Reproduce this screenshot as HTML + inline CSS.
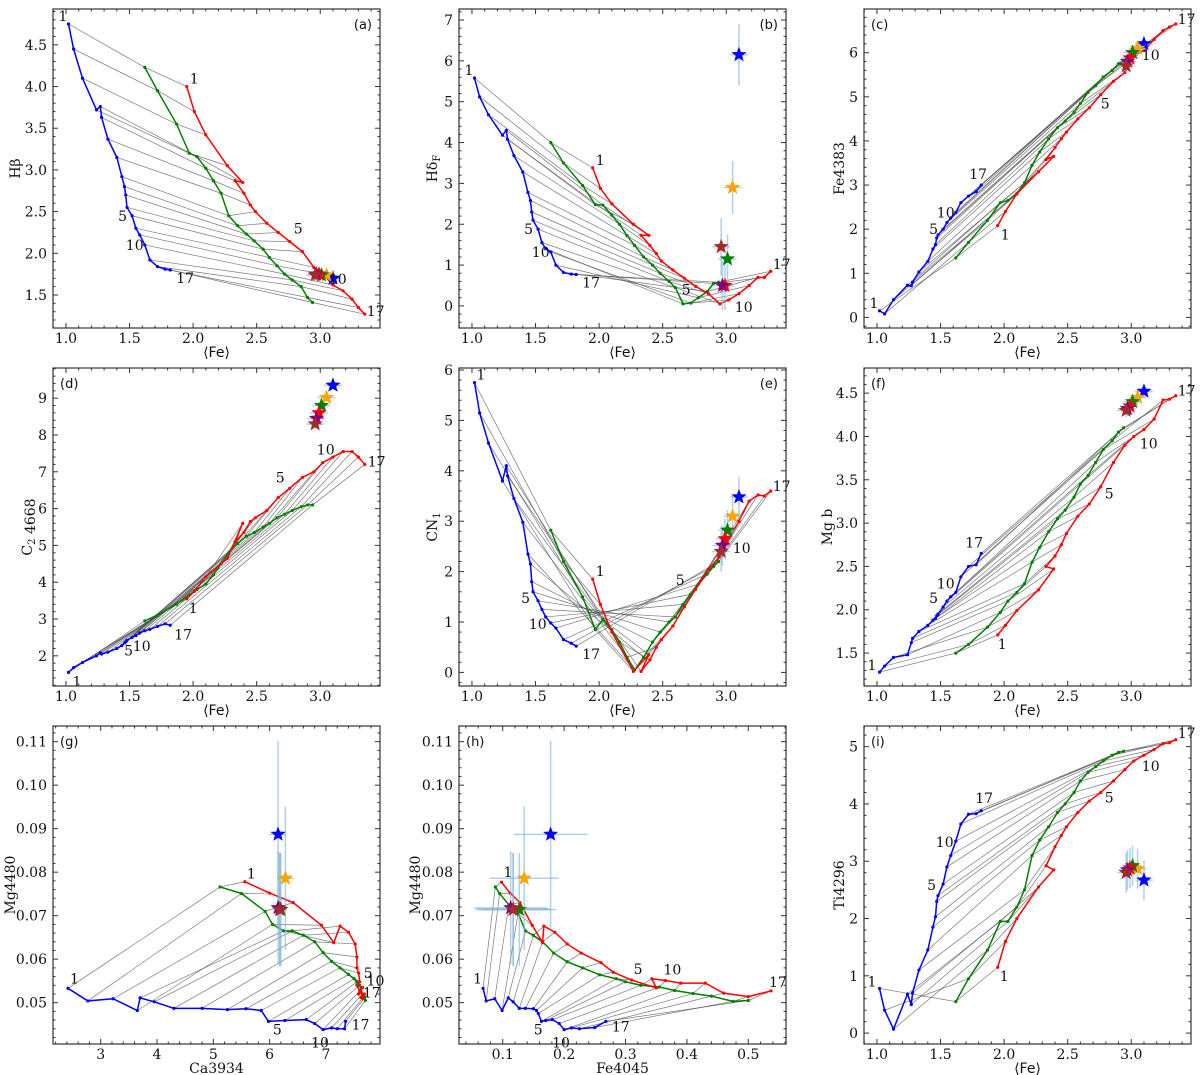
<!DOCTYPE html>
<html><head><meta charset="utf-8"><style>
html,body{margin:0;padding:0;background:#fff;}
svg{display:block;}
</style></head><body>
<svg id="fig" xmlns="http://www.w3.org/2000/svg" width="1200" height="1075" viewBox="0 0 1200 1075"></svg>
<script>
// ---- shared Fe values of model tracks ----
const feBlue=[1.02,1.06,1.13,1.24,1.27,1.28,1.33,1.40,1.44,1.46,1.47,1.48,1.52,1.55,1.58,1.62,1.66,1.72,1.78,1.82];
const feGreen=[1.62,1.72,1.87,1.97,2.03,2.10,2.16,2.22,2.28,2.35,2.42,2.48,2.55,2.60,2.66,2.72,2.78,2.85,2.90,2.94];
const feRed=[1.95,2.01,2.10,2.27,2.39,2.33,2.40,2.45,2.49,2.58,2.67,2.76,2.86,2.95,3.02,3.10,3.18,3.25,3.30,3.35];
const starFe=[3.10,3.05,3.01,2.99,2.97,2.96];
const starFeErr=[0.07,0.07,0.07,0.07,0.07,0.07];
const blueLabelIdx=[0,12,15,19];
const redLabelIdx=[0,11,14,19];
const labelTexts=["1","5","10","17"];

// (a) Hbeta
const aBlue=[4.75,4.45,4.1,3.72,3.76,3.63,3.37,3.15,2.92,2.8,2.7,2.55,2.45,2.3,2.22,2.1,1.92,1.84,1.81,1.80];
const aGreen=[4.23,3.95,3.55,3.2,3.16,3.02,2.87,2.72,2.45,2.33,2.23,2.15,2.05,1.95,1.85,1.75,1.68,1.6,1.47,1.41];
const aRed=[4.0,3.7,3.42,3.05,2.85,2.87,2.72,2.58,2.5,2.36,2.25,2.14,2.02,1.83,1.75,1.62,1.55,1.45,1.35,1.27];
const aStar=[1.70,1.74,1.74,1.75,1.75,1.74];
const aStarErr=[0.03,0.03,0.03,0.03,0.03,0.03];
// (b) HdeltaF
const bBlue=[5.58,5.12,4.68,4.18,4.30,4.08,3.68,3.28,2.78,2.58,2.3,2.1,1.88,1.55,1.4,1.32,1.0,0.82,0.78,0.77];
const bGreen=[4.0,3.5,2.95,2.48,2.47,2.22,2.0,1.72,1.48,1.2,1.0,0.8,0.6,0.45,0.05,0.07,0.2,0.35,0.55,0.58];
const bRed=[3.38,2.88,2.5,2.0,1.73,1.73,1.48,1.28,1.1,0.88,0.68,0.48,0.3,0.05,0.15,0.3,0.5,0.7,0.7,0.85];
const bStar=[6.15,2.9,1.15,0.5,0.5,1.45];
const bStarErr=[0.75,0.65,0.6,0.6,0.6,0.7];
// (c) Fe4383
const cBlue=[0.15,0.08,0.4,0.73,0.72,0.8,1.03,1.27,1.55,1.65,1.8,1.87,2.0,2.15,2.25,2.38,2.6,2.75,2.85,3.0];
const cGreen=[1.35,1.7,2.2,2.6,2.65,2.8,3.05,3.45,3.75,4.05,4.3,4.45,4.65,4.85,5.1,5.25,5.45,5.6,5.75,5.82];
const cRed=[2.08,2.4,2.8,3.3,3.65,3.58,3.85,4.05,4.2,4.5,4.75,5.05,5.35,5.55,5.95,6.05,6.3,6.5,6.58,6.65];
const cStar=[6.2,6.1,6.0,5.88,5.8,5.7];
const cStarErr=[0.15,0.15,0.15,0.15,0.15,0.15];
// (d) C2 4668
const dBlue=[1.55,1.68,1.82,2.0,2.08,2.05,2.1,2.2,2.28,2.35,2.38,2.42,2.5,2.55,2.62,2.68,2.72,2.8,2.87,2.83];
const dGreen=[2.95,3.1,3.4,3.65,3.8,3.95,4.2,4.5,4.8,5.05,5.25,5.35,5.5,5.6,5.75,5.85,5.95,6.05,6.1,6.1];
const dRed=[3.55,3.75,4.15,4.65,5.6,5.1,5.35,5.65,5.75,5.95,6.3,6.55,6.85,7.0,7.25,7.4,7.55,7.55,7.4,7.2];
const dStar=[9.35,9.02,8.8,8.6,8.45,8.3];
const dStarErr=[0.1,0.1,0.1,0.1,0.1,0.1];
// (e) CN1
const eBlue=[5.75,5.15,4.55,3.8,4.1,3.9,3.45,2.98,2.35,2.15,1.8,1.6,1.42,1.25,1.1,0.98,0.88,0.65,0.58,0.52];
const eGreen=[2.82,2.2,1.5,0.85,1.05,0.85,0.6,0.3,0.05,0.3,0.6,0.8,1.0,1.1,1.35,1.55,1.75,1.95,2.1,2.2];
const eRed=[1.85,1.35,0.8,0.02,0.35,0.02,0.25,0.5,0.65,0.92,1.3,1.65,2.05,2.3,2.65,3.0,3.4,3.52,3.5,3.6];
const eStar=[3.48,3.1,2.82,2.65,2.52,2.4];
const eStarErr=[0.4,0.4,0.4,0.4,0.4,0.4];
// (f) Mg b
const fBlue=[1.28,1.35,1.45,1.48,1.62,1.67,1.75,1.82,1.88,1.9,1.93,1.95,2.03,2.1,2.15,2.2,2.38,2.5,2.52,2.65];
const fGreen=[1.5,1.6,1.8,1.97,2.1,2.2,2.3,2.55,2.72,2.9,3.05,3.15,3.3,3.45,3.55,3.7,3.85,3.95,4.05,4.1];
const fRed=[1.71,1.82,1.99,2.23,2.47,2.5,2.62,2.75,2.88,3.08,3.22,3.42,3.7,3.9,4.0,4.08,4.2,4.42,4.43,4.47];
const fStar=[4.52,4.45,4.4,4.35,4.32,4.3];
const fStarErr=[0.08,0.08,0.08,0.08,0.08,0.08];
// (g) Ca3934 vs Mg4480
const gBlueX=[2.42,2.77,3.22,3.65,3.7,3.95,4.3,4.8,5.25,5.58,5.85,5.98,6.27,6.65,6.8,6.95,7.1,7.2,7.33,7.35];
const gBlueY=[0.0533,0.0504,0.0509,0.0482,0.0511,0.0502,0.0487,0.0487,0.0484,0.0486,0.0482,0.0457,0.0459,0.0461,0.0452,0.0438,0.0442,0.044,0.044,0.0457];
const gGreenX=[5.12,5.5,5.92,6.05,6.25,6.4,6.6,6.8,6.95,7.1,7.25,7.4,7.5,7.55,7.6,7.62,7.65,7.68,7.7,7.68];
const gGreenY=[0.0766,0.0751,0.071,0.068,0.0665,0.0665,0.0655,0.064,0.0615,0.0595,0.058,0.0565,0.0555,0.0548,0.054,0.053,0.052,0.0515,0.0505,0.051];
const gRedX=[5.56,6.0,6.42,6.92,7.14,7.25,7.4,7.52,7.55,7.55,7.58,7.6,7.55,7.6,7.65,7.58,7.62,7.65,7.68,7.62];
const gRedY=[0.0778,0.0752,0.073,0.0678,0.0638,0.0676,0.0662,0.0635,0.0605,0.058,0.0568,0.0548,0.054,0.0525,0.0535,0.052,0.0525,0.051,0.052,0.0512];
const gStarX=[6.15,6.28,6.2,6.18,6.15,6.18];
const gStarXErr=[0.15,0.15,0.1,0.1,0.1,0.1];
const gStarY=[0.0887,0.0786,0.0714,0.0715,0.0718,0.0714];
const gStarYErr=[0.0215,0.0165,0.013,0.013,0.013,0.013];
// (h) Fe4045 vs Mg4480
const hBlueX=[0.068,0.073,0.087,0.099,0.109,0.117,0.127,0.137,0.150,0.155,0.158,0.163,0.170,0.181,0.192,0.200,0.212,0.225,0.250,0.268];
const hBlueY=[0.0533,0.0504,0.0509,0.0482,0.0511,0.0502,0.0487,0.0487,0.0486,0.0482,0.0475,0.0457,0.0459,0.0461,0.0452,0.0438,0.0442,0.044,0.0443,0.0457];
const hGreenX=[0.088,0.095,0.110,0.125,0.137,0.150,0.165,0.183,0.205,0.230,0.258,0.285,0.300,0.325,0.355,0.38,0.41,0.44,0.475,0.5];
const hGreenY=[0.0766,0.0751,0.0725,0.0705,0.0665,0.0655,0.064,0.0614,0.0594,0.058,0.0564,0.0555,0.0548,0.054,0.0536,0.0528,0.0521,0.0515,0.0503,0.0505];
const hRedX=[0.098,0.112,0.128,0.148,0.165,0.167,0.185,0.205,0.228,0.26,0.28,0.31,0.35,0.343,0.365,0.39,0.43,0.46,0.50,0.537];
const hRedY=[0.0777,0.0752,0.073,0.0678,0.0638,0.0676,0.0662,0.0635,0.0614,0.0592,0.057,0.0552,0.0534,0.0555,0.0551,0.0545,0.0545,0.0522,0.0514,0.0527];
const hStarX=[0.178,0.135,0.127,0.117,0.113,0.117];
const hStarXErr=[0.06,0.056,0.06,0.06,0.06,0.06];
const hStarY=[0.0887,0.0786,0.0714,0.0715,0.0718,0.0714];
const hStarYErr=[0.0215,0.0165,0.013,0.013,0.013,0.013];
// (i) Ti4296
const iBlue=[0.78,0.4,0.07,0.68,0.5,0.7,1.1,1.45,1.85,2.03,2.3,2.4,2.6,2.9,3.1,3.35,3.65,3.82,3.83,3.88];
const iGreen=[0.55,0.95,1.45,1.95,1.95,2.2,2.5,3.1,3.37,3.6,3.85,4.0,4.2,4.4,4.55,4.65,4.75,4.85,4.9,4.92];
const iRed=[1.15,1.6,2.0,2.55,2.85,2.92,3.25,3.45,3.6,3.85,4.05,4.2,4.4,4.6,4.75,4.85,4.95,5.05,5.07,5.12];
const iStar=[2.67,2.87,2.92,2.88,2.85,2.8];
const iStarErr=[0.35,0.35,0.35,0.35,0.35,0.35];

const starColors=["#0000ff","#ffa500","#008000","#ff0000","#800080","#a52a2a"];
const NS="http://www.w3.org/2000/svg";
const svg=document.getElementById('fig');
function mk(tag,attrs,parent){const e=document.createElementNS(NS,tag);for(const k in attrs)e.setAttribute(k,attrs[k]);(parent||svg).appendChild(e);return e;}

function panel(c,t,s){
  const g=mk('g',{});
  
  
  const X=v=>c.x0+(v-c.xmin)/(c.xmax-c.xmin)*c.w;
  const Y=v=>c.y0+c.h-(v-c.ymin)/(c.ymax-c.ymin)*c.h;
  const clipId='clip'+c.id;
  const cp=mk('clipPath',{id:clipId},g);mk('rect',{x:c.x0,y:c.y0,width:c.w,height:c.h},cp);
  const plot=mk('g',{'clip-path':'url(#'+clipId+')'},g);
  const conn=mk('g',{},plot);
  
  
  for(let i=0;i<t.bx.length;i++){
    const l=mk('polyline',{points:X(t.bx[i])+','+Y(t.by[i])+' '+X(t.gx[i])+','+Y(t.gy[i])+' '+X(t.rx[i])+','+Y(t.ry[i]),fill:'none',stroke:'#4d4d4d','stroke-width':0.7,'stroke-opacity':0.75},conn);
    
    
  }
  [['blue',t.bx,t.by,'#0000ff'],['green',t.gx,t.gy,'#008000'],['red',t.rx,t.ry,'#ff0000']].forEach(([n,xs,ys,col])=>{
    const tg=mk('g',{},plot);
    
    
    mk('polyline',{points:xs.map((v,i)=>X(v)+','+Y(ys[i])).join(' '),fill:'none',stroke:col,'stroke-width':1.5},tg);
    xs.forEach((v,i)=>{const d=mk('circle',{cx:X(v),cy:Y(ys[i]),r:1.6,fill:col},tg);
      
      });
  });
  const eb=mk('g',{},plot);
  
  
  for(let i=0;i<s.x.length;i++){
    mk('line',{x1:X(s.x[i]-s.xe[i]),x2:X(s.x[i]+s.xe[i]),y1:Y(s.y[i]),y2:Y(s.y[i]),stroke:'#7fb0d8','stroke-opacity':0.6,'stroke-width':1.5},eb);
    mk('line',{x1:X(s.x[i]),x2:X(s.x[i]),y1:Y(s.y[i]-s.ye[i]),y2:Y(s.y[i]+s.ye[i]),stroke:'#7fb0d8','stroke-opacity':0.6,'stroke-width':1.5},eb);
  }
  for(let i=0;i<s.x.length;i++){
    const cx=X(s.x[i]),cy=Y(s.y[i]),R=8,r=3.4;let p=[];
    for(let k=0;k<10;k++){const a=-Math.PI/2+k*Math.PI/5;const rr=k%2?r:R;p.push((cx+rr*Math.cos(a)).toFixed(2)+','+(cy+rr*Math.sin(a)).toFixed(2));}
    const st=mk('polygon',{points:p.join(' '),fill:starColors[i]},plot);
    
    
  }
  const lt={'font-family':'"DejaVu Serif","Liberation Serif",serif','font-size':14,fill:'#111'};
  blueLabelIdx.forEach((idx,k)=>{const off=c.bOff[k];
    const tx=mk('text',Object.assign({x:X(t.bx[idx])+off[0],y:Y(t.by[idx])+off[1]},lt),g);tx.textContent=labelTexts[k];
    
    });
  redLabelIdx.forEach((idx,k)=>{const off=c.rOff[k];
    const tx=mk('text',Object.assign({x:X(t.rx[idx])+off[0],y:Y(t.ry[idx])+off[1]},lt),g);tx.textContent=labelTexts[k];
    
    });
  const fr=mk('rect',{x:c.x0,y:c.y0,width:c.w,height:c.h,fill:'none',stroke:'#333','stroke-width':1.2},g);
  
  
  const tf={'font-family':'"DejaVu Serif","Liberation Serif",serif','font-size':14,fill:'#111'};
  const xa=mk('g',{},g);
  const ya=mk('g',{},g);
  const eps=1e-9;
  for(let v=Math.ceil((c.xmin-eps)/c.xmi)*c.xmi;v<=c.xmax+eps;v+=c.xmi){
    const px=X(v);const major=Math.abs(v/c.xma-Math.round(v/c.xma))<1e-6;const L=major?5:2.5;
    mk('line',{x1:px,x2:px,y1:c.y0+c.h,y2:c.y0+c.h-L,stroke:'#333','stroke-width':1},xa);
    mk('line',{x1:px,x2:px,y1:c.y0,y2:c.y0+L,stroke:'#333','stroke-width':1},xa);
    if(major){const tx=mk('text',Object.assign({x:px,y:c.y0+c.h+15,'text-anchor':'middle'},tf),xa);tx.textContent=(Math.round(v/c.xma)*c.xma).toFixed(c.xd);}
  }
  for(let v=Math.ceil((c.ymin-eps)/c.ymi)*c.ymi;v<=c.ymax+eps;v+=c.ymi){
    const py=Y(v);const major=Math.abs(v/c.yma-Math.round(v/c.yma))<1e-6;const L=major?5:2.5;
    mk('line',{x1:c.x0,x2:c.x0+L,y1:py,y2:py,stroke:'#333','stroke-width':1},ya);
    mk('line',{x1:c.x0+c.w,x2:c.x0+c.w-L,y1:py,y2:py,stroke:'#333','stroke-width':1},ya);
    if(major){const tx=mk('text',Object.assign({x:c.x0-6,y:py+5,'text-anchor':'end'},tf),ya);tx.textContent=(Math.round(v/c.yma)*c.yma).toFixed(c.yd);}
  }
  const xl=mk('text',{x:c.x0+c.w/2,y:c.y0+c.h+29,'text-anchor':'middle','font-family':c.xlf,'font-size':14,fill:'#111'},g);
  xl.textContent=c.xlabel;
  
  
  const ylx=c.ylx, yly=c.y0+c.h/2;
  const yl=mk('text',{x:ylx,y:yly,'text-anchor':'middle','font-family':'"DejaVu Serif","Liberation Serif",serif','font-size':14,fill:'#111',transform:'rotate(-90 '+ylx+' '+yly+')'},g);
  c.ylabel.forEach(([txt,sub])=>{const ts=mk('tspan',sub?{'font-size':10,dy:3}:{},yl);ts.textContent=txt;});
  
  
  const tag=mk('text',{x:c.tagRight?c.x0+c.w-8:c.x0+7,y:c.y0+20,'text-anchor':c.tagRight?'end':'start','font-family':'"DejaVu Sans","Liberation Sans",sans-serif','font-size':13,fill:'#111'},g);
  tag.textContent='('+c.id+')';
  
  
}

const C1=53,C2=459,C3=864,W=327,R1=9,R2=368,R3=726,H1=319,H2=318,H3=318;
const feX={xmin:0.898,xmax:3.47,xma:0.5,xmi:0.1,xd:1,xlabel:'⟨Fe⟩',xlf:'"DejaVu Sans","Liberation Sans",sans-serif'};
const bOffStd=[[-10,-3],[-14,5],[-19,5],[6,13]], rOffStd=[[3,-3],[4,-8],[6,10],[2,2]];
const sFe=(ys,ye)=>({x:starFe,xe:starFeErr,y:ys,ye:ye});

panel(Object.assign({id:'a',x0:C1,y0:R1,w:W,h:H1,ymin:1.104,ymax:4.93,yma:0.5,ymi:0.1,yd:1,ylabel:[['Hβ']],ylx:20,tagRight:true,bOff:bOffStd,rOff:rOffStd},feX),
  {bx:feBlue,by:aBlue,gx:feGreen,gy:aGreen,rx:feRed,ry:aRed},sFe(aStar,aStarErr));
panel(Object.assign({id:'b',x0:C2,y0:R1,w:W,h:H1,ymin:-0.54,ymax:7.27,yma:1,ymi:0.2,yd:0,ylabel:[['Hδ'],['F',1]],ylx:437,tagRight:true,bOff:bOffStd,rOff:[[3,-3],[-14,8],[6,12],[2,-2]]},feX),
  {bx:feBlue,by:bBlue,gx:feGreen,gy:bGreen,rx:feRed,ry:bRed},sFe(bStar,bStarErr));
panel(Object.assign({id:'c',x0:C3,y0:R1,w:W,h:H1,ymin:-0.24,ymax:6.99,yma:1,ymi:0.2,yd:0,ylabel:[['Fe4383']],ylx:844,tagRight:false,bOff:[[-10,-3],[-14,5],[-19,5],[-12,-6]],rOff:[[3,14],[0,14],[8,5],[2,0]]},feX),
  {bx:feBlue,by:cBlue,gx:feGreen,gy:cGreen,rx:feRed,ry:cRed},sFe(cStar,cStarErr));
panel(Object.assign({id:'d',x0:C1,y0:R2,w:W,h:H2,ymin:1.18,ymax:9.82,yma:1,ymi:0.2,yd:0,ylabel:[['C'],['2',1],[' 4668']],ylx:32,tagRight:false,bOff:[[4,14],[-8,18],[-12,20],[4,14]],rOff:[[2,14],[-14,-6],[-6,-8],[3,2]]},feX),
  {bx:feBlue,by:dBlue,gx:feGreen,gy:dGreen,rx:feRed,ry:dRed},sFe(dStar,dStarErr));
panel(Object.assign({id:'e',x0:C2,y0:R2,w:W,h:H2,ymin:-0.27,ymax:6.04,yma:1,ymi:0.2,yd:0,ylabel:[['CN'],['1',1]],ylx:437,tagRight:true,bOff:[[2,-3],[-17,2],[-22,6],[6,13]],rOff:[[3,-3],[-20,-4],[4,14],[2,0]]},feX),
  {bx:feBlue,by:eBlue,gx:feGreen,gy:eGreen,rx:feRed,ry:eRed},sFe(eStar,eStarErr));
panel(Object.assign({id:'f',x0:C3,y0:R2,w:W,h:H2,ymin:1.12,ymax:4.79,yma:0.5,ymi:0.1,yd:1,ylabel:[['Mg b']],ylx:832,tagRight:false,bOff:[[-12,-2],[-14,-4],[-19,-4],[-16,-6]],rOff:[[0,14],[4,12],[6,12],[2,0]]},feX),
  {bx:feBlue,by:fBlue,gx:feGreen,gy:fGreen,rx:feRed,ry:fRed},sFe(fStar,fStarErr));
panel({id:'g',x0:C1,y0:R3,w:W,h:H3,xmin:2.153,xmax:7.96,xma:1,xmi:0.2,xd:0,xlabel:'Ca3934',xlf:'"DejaVu Serif","Liberation Serif",serif',ymin:0.0405,ymax:0.1136,yma:0.01,ymi:0.002,yd:2,ylabel:[['Mg4480']],ylx:15,tagRight:false,bOff:[[2,-5],[-12,14],[-12,18],[6,8]],rOff:[[2,-3],[4,-4],[4,-2],[2,0]]},
  {bx:gBlueX,by:gBlueY,gx:gGreenX,gy:gGreenY,rx:gRedX,ry:gRedY},{x:gStarX,xe:gStarXErr,y:gStarY,ye:gStarYErr});
panel({id:'h',x0:C2,y0:R3,w:W,h:H3,xmin:0.0288,xmax:0.5614,xma:0.1,xmi:0.02,xd:1,xlabel:'Fe4045',xlf:'"DejaVu Serif","Liberation Serif",serif',ymin:0.0405,ymax:0.1136,yma:0.01,ymi:0.002,yd:2,ylabel:[['Mg4480']],ylx:420,tagRight:false,bOff:[[-10,-5],[-12,14],[-12,18],[6,10]],rOff:[[2,-5],[2,-6],[-2,-6],[-2,-4]]},
  {bx:hBlueX,by:hBlueY,gx:hGreenX,gy:hGreenY,rx:hRedX,ry:hRedY},{x:hStarX,xe:hStarXErr,y:hStarY,ye:hStarYErr});
panel(Object.assign({id:'i',x0:C3,y0:R3,w:W,h:H3,ymin:-0.19,ymax:5.36,yma:1,ymi:0.2,yd:0,ylabel:[['Ti4296']],ylx:844,tagRight:false,bOff:[[-12,-2],[-16,6],[-20,6],[-6,-8]],rOff:[[2,14],[4,10],[8,10],[2,-2]]},feX),
  {bx:feBlue,by:iBlue,gx:feGreen,gy:iGreen,rx:feRed,ry:iRed},sFe(iStar,iStarErr));
</script>
</body></html>
